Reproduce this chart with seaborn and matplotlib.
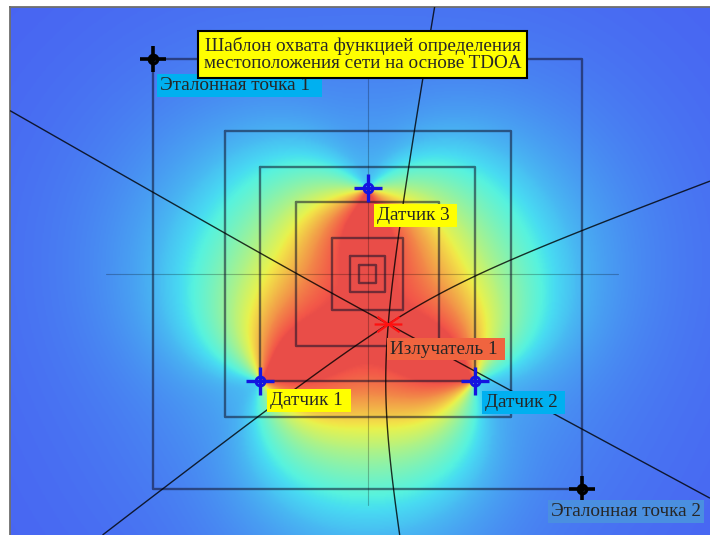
"""
TDOA coverage template: sensors, reference points, emitter and hyperbolas.
"""
import numpy as np
import pandas as pd
import matplotlib
matplotlib.use('Agg')
import matplotlib.pyplot as plt
from matplotlib.colors import LinearSegmentedColormap
from matplotlib.path import Path
import seaborn as sns

# ------------------------------------------------------------
# data (grid units, centre of the squares = 0,0)
# ------------------------------------------------------------
sensor_names = ['Датчик 1', 'Датчик 2', 'Датчик 3']
sensor_x = [-1.5, 1.5, 0.0]
sensor_y = [-1.5, -1.5, 1.2]

ref_names = ['Эталонная точка 1', 'Эталонная точка 2']
ref_x = [-3.0, 3.0]
ref_y = [3.0, -3.0]

emitter_name = 'Излучатель 1'
emitter_x = [0.29]
emitter_y = [-0.70]

square_half = [3.0, 2.0, 1.5, 1.0, 0.5, 0.25, 0.125]
cross_h = [-3.66, 3.50]
cross_v = [-3.23, 3.30]

title = 'Шаблон охвата функцией определения\nместоположения сети на основе TDOA'

XLIM = (-5.0, 4.79)
YLIM = (-3.65, 3.734)

sns.set_style("white")
plt.rcParams['font.family'] = ['Liberation Serif', 'DejaVu Serif']

# washed-out jet
jet = plt.get_cmap('jet')
tt = np.linspace(0.15, 0.9, 64)
cols = 0.95 * (0.3 + 0.7 * jet(tt)[:, :3])
cmap = LinearSegmentedColormap.from_list('washed_jet', cols)

fig = plt.figure(figsize=(7.1, 5.35), dpi=100)
ax = fig.add_axes([10 / 710, 0, 700 / 710, 528 / 535])

# ------------------------------------------------------------
# coverage field: sum of directional sensor responses
# ------------------------------------------------------------
xs = np.linspace(XLIM[0], XLIM[1], 600)
ys = np.linspace(YLIM[0], YLIM[1], 460)
X, Y = np.meshgrid(xs, ys)
cx, cy = np.mean(sensor_x), np.mean(sensor_y)
P = np.zeros_like(X)
for sx, sy in zip(sensor_x, sensor_y):
    dx, dy = X - sx, Y - sy
    d = np.hypot(dx, dy) + 1e-6
    bx, by = cx - sx, cy - sy
    cosang = (dx * bx + dy * by) / (d * np.hypot(bx, by))
    gain = ((1 + cosang) / 2) ** 1.35
    P += gain / (1 + (d / 1.55) ** 2.5)

ax.imshow(P, extent=[XLIM[0], XLIM[1], YLIM[0], YLIM[1]], origin='lower',
          cmap=cmap, vmin=0.0, vmax=1.22, interpolation='bilinear', zorder=0)

# crosshair through the centre
ax.plot(cross_h, [0, 0], color='k', lw=0.8, alpha=0.25, zorder=1)
ax.plot([0, 0], cross_v, color='k', lw=0.8, alpha=0.25, zorder=1)

# nested squares
rows = []
for k, h in enumerate(square_half):
    for px, py in [(-h, h), (h, h), (h, -h), (-h, -h), (-h, h)]:
        rows.append({'x': px, 'y': py, 'sq': k})
df_sq = pd.DataFrame(rows)
sns.lineplot(data=df_sq, x='x', y='y', units='sq', estimator=None, sort=False,
             color='#101028', alpha=0.55, lw=1.7, ax=ax, zorder=2)

# TDOA hyperbolas through the emitter
for i, j in [(0, 1), (0, 2), (1, 2)]:
    di = np.hypot(X - sensor_x[i], Y - sensor_y[i])
    dj = np.hypot(X - sensor_x[j], Y - sensor_y[j])
    lev = (np.hypot(emitter_x[0] - sensor_x[i], emitter_y[0] - sensor_y[i])
           - np.hypot(emitter_x[0] - sensor_x[j], emitter_y[0] - sensor_y[j]))
    ax.contour(X, Y, di - dj, levels=[lev], colors='k', linewidths=1.0,
               linestyles='solid', alpha=0.8, zorder=3)

# markers
blue = '#1414e0'
sns.scatterplot(x=sensor_x, y=sensor_y, marker='+', s=380, color=blue,
                linewidth=2.4, ax=ax, zorder=5)
ax.plot(sensor_x, sensor_y, ls='none', marker='o', ms=6.5, mfc='none', mec=blue,
        mew=2, zorder=5)
sns.scatterplot(x=ref_x, y=ref_y, marker='+', s=340, color='k',
                linewidth=2.6, ax=ax, zorder=5)
ax.plot(ref_x, ref_y, ls='none', marker='o', ms=6, mfc='none', mec='k',
        mew=2.4, zorder=5)
star = Path([(-1, 0), (1, 0), (-0.8, 0.55), (0.8, -0.55), (-0.8, -0.55), (0.8, 0.55)],
            [Path.MOVETO, Path.LINETO] * 3)
ax.plot(emitter_x, emitter_y, ls='none', marker=star, ms=20, mec='#ff1010',
        mew=1.6, zorder=5)

# labels
fs = 13.75
label_style = [
    (ref_names[0] + '  ', ref_x[0], ref_y[0], (7, -26), '#00b0f0'),
    (ref_names[1], ref_x[1], ref_y[1], (-31, -23), '#4a8fe0'),
    (sensor_names[0] + ' ', sensor_x[0], sensor_y[0], (10, -19), '#ffff00'),
    (sensor_names[1] + ' ', sensor_x[1], sensor_y[1], (10, -21), '#00b0f0'),
    (sensor_names[2] + ' ', sensor_x[2], sensor_y[2], (9, -27), '#ffff00'),
    (emitter_name + ' ', emitter_x[0], emitter_y[0], (2, -25), '#f0643f'),
]
for txt, x, y, off, fc in label_style:
    ax.annotate(txt, xy=(x, y), xytext=off, textcoords='offset pixels',
                ha='left', va='center', fontsize=fs, zorder=6,
                bbox=dict(boxstyle='square,pad=0.15', fc=fc, ec='none'))

ax.text(0.5036, 0.910, title, transform=ax.transAxes, ha='center', va='center',
        fontsize=fs, linespacing=1.0, zorder=7,
        bbox=dict(boxstyle='square,pad=0.3', fc='#ffff00', ec='k', lw=1.5))

ax.set_xlim(XLIM)
ax.set_ylim(YLIM)
ax.set_aspect('auto')
ax.set_xticks([])
ax.set_yticks([])
ax.set_xlabel('')
ax.set_ylabel('')
for side in ['right', 'bottom']:
    ax.spines[side].set_visible(False)
for side in ['left', 'top']:
    ax.spines[side].set_color('#6e6e6e')
    ax.spines[side].set_linewidth(1.3)

fig.savefig('out.png', dpi=100)
plt.close(fig)
